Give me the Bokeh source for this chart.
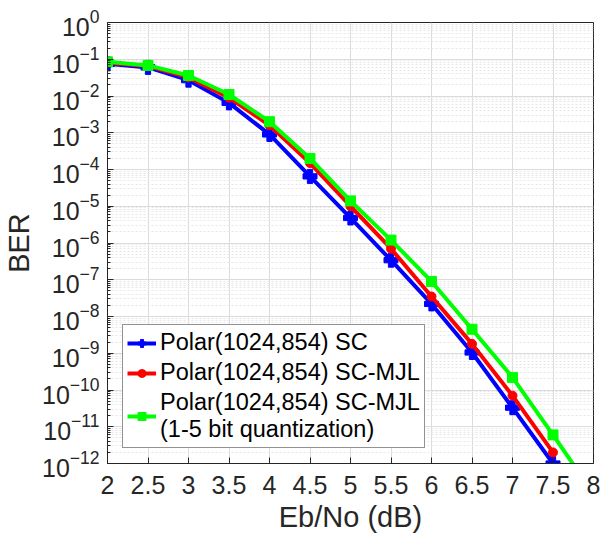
from bokeh.plotting import figure
from bokeh.models import Range1d, FixedTicker, Legend, LegendItem
from bokeh.embed import file_html
from bokeh.resources import INLINE

ebno = [2, 2.5, 3, 3.5, 4, 4.5, 5, 5.5, 6, 6.5, 7, 7.5]
ber_sc = [7.5e-2, 6.0e-2, 2.7e-2, 6.5e-3, 9.0e-4, 6.5e-5, 4.8e-6, 3.4e-7, 2.2e-8, 1.05e-9, 3.3e-11, 1.0e-12]
ber_mjl = [8.0e-2, 6.5e-2, 3.2e-2, 9.0e-3, 1.6e-3, 1.5e-4, 1.0e-5, 7.0e-7, 3.5e-8, 1.8e-9, 7.0e-11, 2.0e-12]
ebno_q = [2, 2.5, 3, 3.5, 4, 4.5, 5, 5.5, 6, 6.5, 7, 7.5, 8]
ber_q = [8.5e-2, 6.8e-2, 3.6e-2, 1.1e-2, 2.0e-3, 2.0e-4, 1.4e-5, 1.2e-6, 9.0e-8, 4.5e-9, 2.2e-10, 6.0e-12, 1.5e-13]

x_ticks = [2, 2.5, 3, 3.5, 4, 4.5, 5, 5.5, 6, 6.5, 7, 7.5, 8]
y_exps = list(range(-12, 1))
x_title = "Eb/No (dB)"
y_title = "BER"

FONT = "Liberation Sans"
TXT = "#262626"

p = figure(frame_width=486, frame_height=441, y_axis_type="log",
           x_range=Range1d(2, 8), y_range=Range1d(1e-12, 1),
           output_backend="svg", toolbar_location=None,
           min_border_left=106, min_border_right=8, min_border_top=22, min_border_bottom=76)
p.background_fill_color = "white"
p.outline_line_color = TXT
p.outline_line_width = 1

yt = [10.0 ** e for e in y_exps]
ymin = [m * 10.0 ** e for e in y_exps[:-1] for m in range(2, 10)]
p.xaxis.ticker = FixedTicker(ticks=x_ticks)
p.yaxis.ticker = FixedTicker(ticks=yt, minor_ticks=ymin)

for ax in (p.xaxis[0], p.yaxis[0]):
    ax.axis_line_color = TXT
    ax.major_tick_line_color = TXT
    ax.minor_tick_line_color = TXT
    ax.major_tick_in = 6
    ax.major_tick_out = 0
    ax.minor_tick_in = 3
    ax.minor_tick_out = 0
    ax.major_label_text_font = FONT
    ax.major_label_text_color = TXT
    ax.major_label_text_font_size = "25px"
    ax.axis_label_text_font = FONT
    ax.axis_label_text_color = TXT
    ax.axis_label_text_font_size = "29px"
    ax.axis_label_text_font_style = "normal"
p.xaxis.minor_tick_line_color = None
p.xaxis.axis_label = x_title
p.yaxis.axis_label = y_title
p.xaxis.major_label_standoff = 12
p.yaxis.major_label_standoff = 8
p.xaxis.axis_label_standoff = 4
p.yaxis.axis_label_standoff = 4

p.xgrid.grid_line_color = "#dcdcdc"
p.ygrid.grid_line_color = "#dcdcdc"
p.ygrid.minor_grid_line_color = "#e6e6e6"
p.ygrid.minor_grid_line_dash = "2 2"

r1 = p.line(ebno, ber_sc, line_color="#0000ff", line_width=4)
m1 = p.scatter(ebno, ber_sc, marker="plus", size=14, color="#0000ff")
r2 = p.line(ebno, ber_mjl, line_color="#ff0000", line_width=4)
m2 = p.scatter(ebno, ber_mjl, marker="circle", size=9, color="#ff0000")
r3 = p.line(ebno_q, ber_q, line_color="#00ff00", line_width=4)
m3 = p.scatter(ebno_q, ber_q, marker="square", size=10, color="#00ff00")

legend = Legend(items=[
    LegendItem(label="Polar(1024,854) SC", renderers=[r1, m1]),
    LegendItem(label="Polar(1024,854) SC-MJL", renderers=[r2, m2]),
    LegendItem(label="Polar(1024,854) SC-MJL\n(1-5 bit quantization)", renderers=[r3, m3]),
], location=(15, 15))
legend.border_line_color = TXT
legend.border_line_width = 1
legend.background_fill_alpha = 1
legend.label_text_font = FONT
legend.label_text_font_size = "23.5px"
legend.label_text_color = "black"
legend.glyph_width = 29
legend.spacing = 3
legend.padding = 4
legend.margin = 0
legend.label_standoff = 4
p.add_layout(legend)

open("out.html", "w").write(file_html(p, INLINE))
